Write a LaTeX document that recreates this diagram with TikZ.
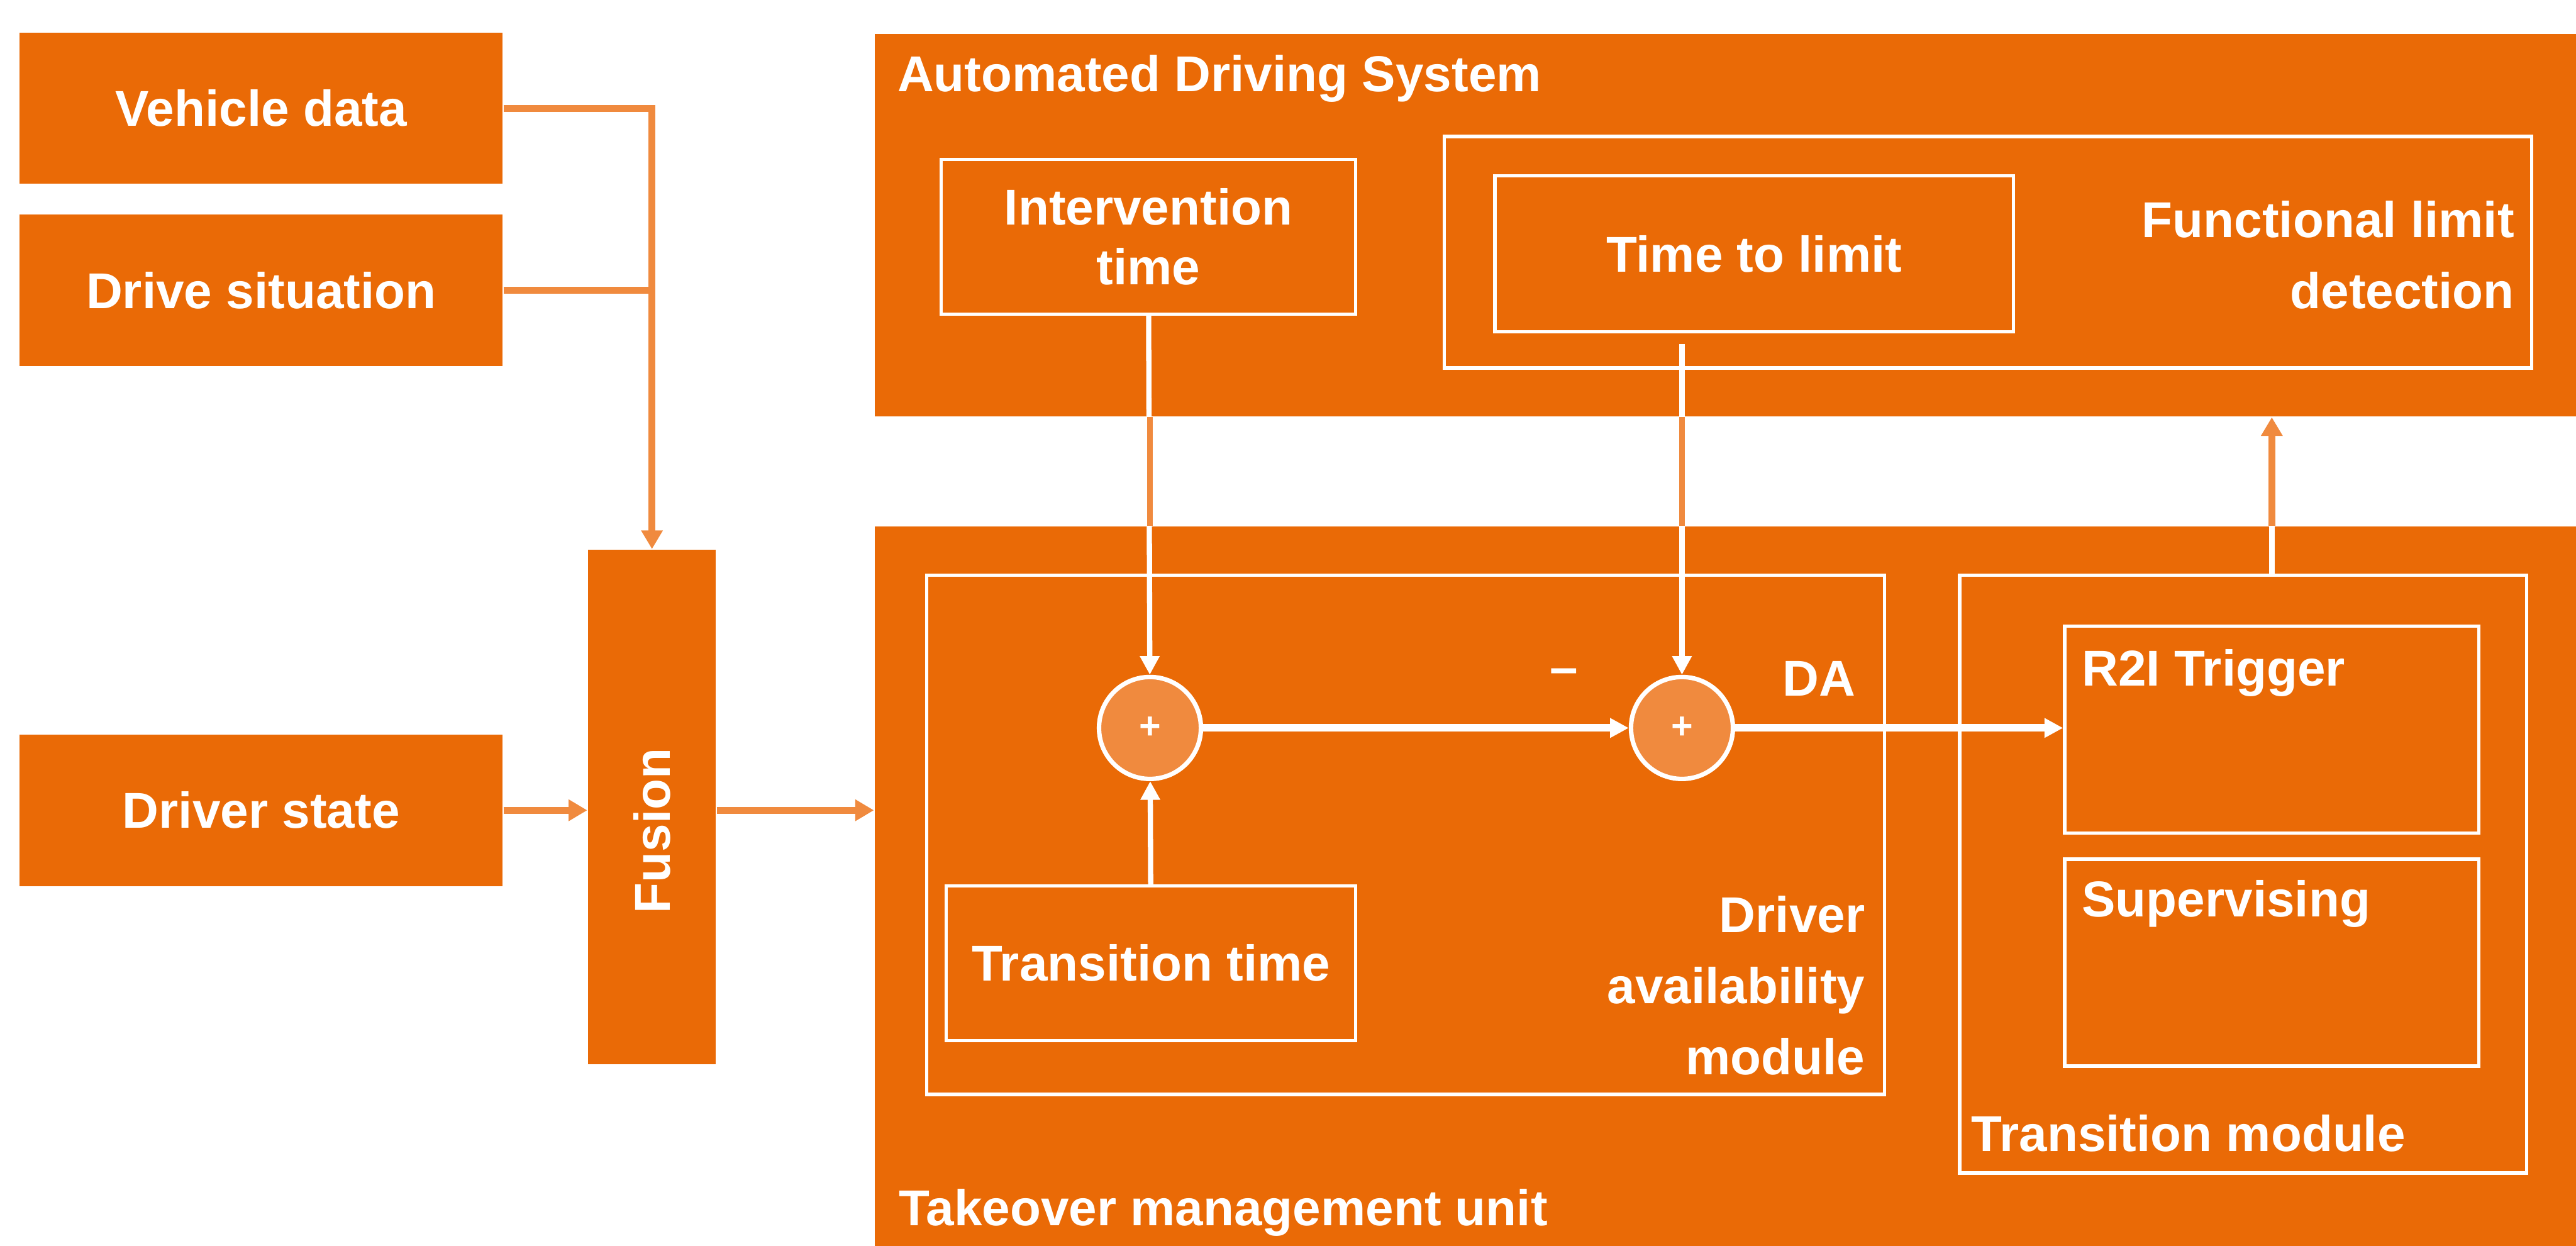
\documentclass[tikz,border=0pt]{standalone}
\usepackage{fontspec}
\setmainfont{Liberation Sans}
\usepackage{graphicx}
\usepackage{tikz}
\usetikzlibrary{positioning,calc,arrows.meta}
\definecolor{tmorange}{RGB}{234,106,6}
\definecolor{lightorange}{RGB}{240,138,62}

\begin{document}
\begin{tikzpicture}[
    font=\fontsize{13.5}{19}\selectfont\bfseries,
    node distance=0.275cm,
    box/.style={fill=tmorange, text=white, align=center, inner sep=0pt, minimum width=4.55cm, minimum height=1.425cm},
    frame/.style={draw=white, line width=0.9pt, text=white, align=center, inner sep=0pt},
    caption/.style={text=white, inner sep=0pt},
    sumnode/.style={circle, draw=white, line width=1.2pt, fill=lightorange, text=white, minimum size=0.96cm, inner sep=0pt, font=\fontsize{10}{10}\selectfont\bfseries},
    link/.style={draw=lightorange, line width=1.8pt, -{Triangle[length=5pt,width=5.5pt]}},
    wlink/.style={draw=white, line width=1.4pt, -{Triangle[length=5pt,width=5pt]}},
    gapline/.style={draw=lightorange, line width=1.6pt}
]
\useasboundingbox (0,0) rectangle (24.26,-11.73);

% Left: inputs
\node (vehicle) [box] at (2.46,-1.02) {Vehicle data};
\node (drivesit) [box, below=of vehicle] {Drive situation};
\node (driverstate) [box] at (2.46,-7.63) {Driver state};

% Fusion
\node (fusion) [box, minimum width=1.205cm, minimum height=4.845cm] at (6.14,-7.60) {\rotatebox{90}{\hspace{-0.45cm}Fusion}};

% Automated Driving System
\node (ads) [fill=tmorange, anchor=north west, minimum width=16.03cm, minimum height=3.605cm] at (8.23,-0.31) {};
\node (adstitle) [caption, anchor=west] at (8.445,-0.74) {Automated Driving System};
\node (intervention) [frame, minimum width=3.9cm, minimum height=1.455cm, font=\fontsize{13.5}{16}\selectfont\bfseries] at (10.815,-2.23) {Intervention\\time};
\node (fld) [frame, anchor=north west, minimum width=10.24cm, minimum height=2.18cm] at (13.585,-1.27) {};
\node (fldtext) [caption, anchor=east, align=right] at (23.685,-2.4) {Functional limit\\detection};
\node (ttl) [frame, minimum width=4.885cm, minimum height=1.47cm] at (16.52,-2.39) {Time to limit};

% Takeover management unit
\node (tmu) [fill=tmorange, anchor=north west, minimum width=16.03cm, minimum height=6.78cm] at (8.23,-4.95) {};
\node (tmutitle) [caption, anchor=west] at (8.46,-11.42) {Takeover management unit};

% Driver availability module
\node (dam) [frame, anchor=north west, minimum width=9.02cm, minimum height=4.89cm] at (8.71,-5.4) {};
\node (damtext) [caption, anchor=east, align=right] at (17.57,-9.28) {Driver\\availability\\module};
\node (sum1) [sumnode] at (10.83,-6.855) {+};
\node (sum2) [sumnode] at (15.84,-6.855) {+};
\node (transtime) [frame, minimum width=3.855cm, minimum height=1.455cm] at (10.84,-9.07) {Transition time};
\node (minus) [caption] at (14.73,-6.37) {–};
\node (da) [caption] at (17.13,-6.39) {DA};

% Transition module
\node (transmod) [frame, anchor=north west, minimum width=5.34cm, minimum height=5.63cm] at (18.44,-5.4) {};
\node (tmtext) [caption, anchor=west] at (18.56,-10.67) {Transition module};
\node (r2i) [frame, minimum width=3.9cm, minimum height=1.95cm] at (21.395,-6.87) {};
\node (r2itext) [caption, anchor=west] at (19.6,-6.34) {R2I Trigger};
\node (superv) [frame, minimum width=3.9cm, minimum height=1.95cm] at (21.395,-9.065) {};
\node (supervtext) [caption, anchor=west] at (19.6,-8.51) {Supervising};

% Connectors outside
\draw[link] (vehicle.east) -| (fusion.north);
\draw[draw=lightorange, line width=1.8pt] (drivesit.east) -- (drivesit.east -| fusion.north);
\draw[link] (driverstate.east) -- (fusion.west |- driverstate.east);
\draw[link] (fusion.east |- driverstate.east) -- (tmu.west |- driverstate.east);

% Connectors inside
\draw[wlink] (intervention) -- (sum1);
\draw[gapline] (ads.south -| sum1) -- (tmu.north -| sum1);
\draw[wlink] (transtime) -- (sum1);
\draw[wlink] ($(ttl.south -| sum2)+(0,-0.1)$) -- (sum2);
\draw[gapline] (ads.south -| sum2) -- (tmu.north -| sum2);
\draw[wlink, line width=2pt] (sum1) -- (sum2);
\draw[wlink, line width=2pt] (sum2.east) -- (sum2.east -| r2i.west);
\draw[draw=white, line width=1.4pt] (transmod.north -| r2i) -- (tmu.north -| r2i);
\draw[link] (tmu.north -| r2i) -- (ads.south -| r2i);

\end{tikzpicture}
\end{document}
